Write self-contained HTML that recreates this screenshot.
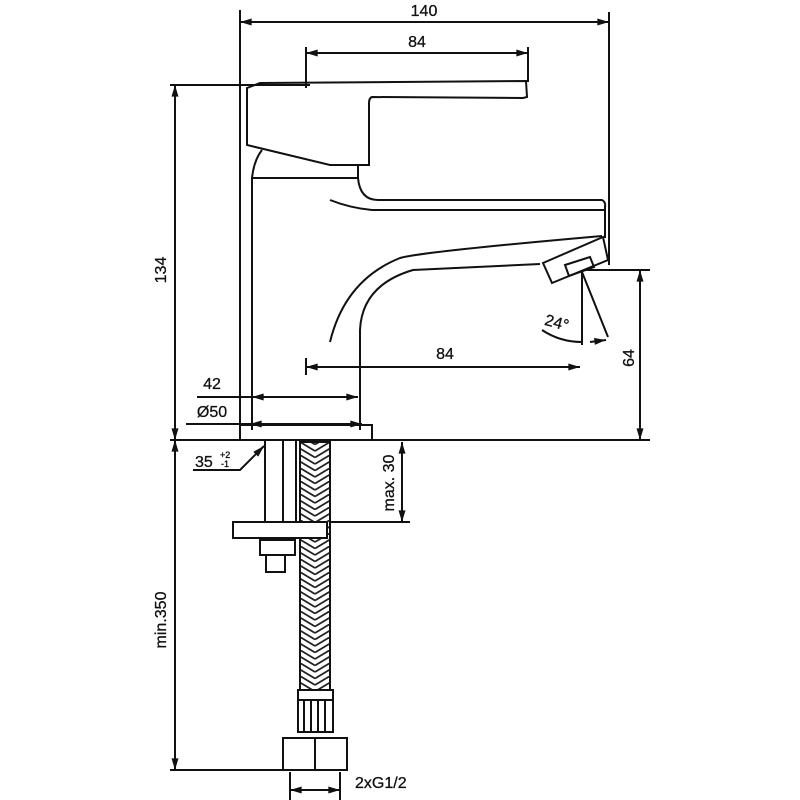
<!DOCTYPE html>
<html><head><meta charset="utf-8"><style>body{margin:0;background:#fff}svg{display:block}text{font-family:"Liberation Sans",sans-serif;font-size:16px;fill:#111;stroke:#111;stroke-width:0.3}</style></head><body>
<svg width="800" height="800" viewBox="0 0 800 800" xmlns="http://www.w3.org/2000/svg">
<defs>
<marker id="a" viewBox="0 0 10 6" refX="10" refY="3" markerWidth="12" markerHeight="7" orient="auto-start-reverse" markerUnits="userSpaceOnUse"><path d="M0,0L10,3L0,6z" fill="#111"/></marker>
<pattern id="br" x="300" width="30" height="13" patternUnits="userSpaceOnUse"><path d="M0,0L15,9M30,0L15,9M0,6.5L15,15.5M30,6.5L15,15.5M0,-6.5L15,2.5M30,-6.5L15,2.5" stroke="#222" stroke-width="1.8" fill="none"/></pattern>
</defs>
<g stroke="#111" stroke-width="2" fill="none">
<line x1="240" y1="10" x2="240" y2="440"/><line x1="609" y1="12" x2="609" y2="265"/>
<line x1="240" y1="22" x2="609" y2="22" marker-start="url(#a)" marker-end="url(#a)"/>
<line x1="306" y1="47" x2="306" y2="88"/><line x1="528" y1="47" x2="528" y2="82"/>
<line x1="306" y1="53" x2="528" y2="53" marker-start="url(#a)" marker-end="url(#a)"/>
<line x1="170" y1="85" x2="310" y2="85"/>
<line x1="175" y1="85" x2="175" y2="440" marker-start="url(#a)" marker-end="url(#a)"/>
<path d="M247,88 L260,83 L526,81 L527,97 L523,98 L372,97 Q369,98 369,103 L369,165 L330,165 L247,145 Z"/>
<path d="M252,430 L252,178 L358,178"/>
<path d="M252,178 Q254,160 262,150"/>
<path d="M358,165 L358,178 Q360,200 378,200 L602,200 Q606,202 605,207 L605,238"/>
<path d="M330,200 Q350,208 372,210 L605,210"/>
<path d="M330,342 Q345,280 400,258 Q420,252 602,236"/>
<path d="M360,430 L360,330 Q362,285 413,270 L540,264"/>
<path d="M543,263 L603,237 L608,260 L552,283 Z"/>
<path d="M565,265 L590,257 L594,267 L569,276 Z"/>
<line x1="582" y1="272" x2="582" y2="345"/><line x1="582" y1="272" x2="608" y2="337"/>
<path d="M542,330 Q560,342 582,342"/><line x1="590" y1="342" x2="606" y2="340" marker-end="url(#a)"/>
<line x1="585" y1="270" x2="650" y2="270"/>
<line x1="640" y1="270" x2="640" y2="440" marker-start="url(#a)" marker-end="url(#a)"/>
<line x1="306" y1="358" x2="306" y2="375"/>
<line x1="306" y1="367" x2="580" y2="367" marker-start="url(#a)" marker-end="url(#a)"/>
<line x1="197" y1="397" x2="252" y2="397"/>
<line x1="252" y1="397" x2="358" y2="397" marker-start="url(#a)" marker-end="url(#a)"/>
<line x1="186" y1="424" x2="250" y2="424"/>
<line x1="250" y1="424" x2="362" y2="424" marker-start="url(#a)" marker-end="url(#a)"/>
<rect x="240" y="425" width="132" height="15"/>
<line x1="170" y1="440" x2="650" y2="440"/>
<polyline points="193,470 240,470 264,446" marker-end="url(#a)"/>
<line x1="175" y1="440" x2="175" y2="770" marker-start="url(#a)" marker-end="url(#a)"/>
<line x1="170" y1="770" x2="290" y2="770"/>
<line x1="265" y1="440" x2="265" y2="522"/><line x1="283" y1="440" x2="283" y2="522"/><line x1="296" y1="440" x2="296" y2="522"/>
<rect x="300" y="442" width="30" height="248" fill="url(#br)"/>
<rect x="233" y="522" width="94" height="16" fill="#fff"/>
<rect x="260" y="540" width="35" height="15"/><rect x="266" y="555" width="19" height="17"/>
<rect x="298" y="690" width="35" height="10"/>
<rect x="298" y="700" width="35" height="32"/>
<line x1="304" y1="700" x2="304" y2="732"/><line x1="311" y1="700" x2="311" y2="732"/><line x1="318" y1="700" x2="318" y2="732"/><line x1="325" y1="700" x2="325" y2="732"/>
<rect x="283" y="738" width="64" height="32"/><line x1="315" y1="738" x2="315" y2="770"/>
<line x1="330" y1="522" x2="410" y2="522"/>
<line x1="402" y1="442" x2="402" y2="522" marker-start="url(#a)" marker-end="url(#a)"/>
<line x1="290" y1="772" x2="290" y2="800"/><line x1="340" y1="772" x2="340" y2="800"/>
<line x1="290" y1="790" x2="340" y2="790" marker-start="url(#a)" marker-end="url(#a)"/>
</g>
<text x="424" y="16" text-anchor="middle">140</text>
<text x="417" y="47" text-anchor="middle">84</text>
<text x="445" y="359" text-anchor="middle">84</text>
<text x="212" y="389" text-anchor="middle">42</text>
<text x="212" y="417" text-anchor="middle">Ø50</text>
<text x="557" y="328" text-anchor="middle" transform="rotate(15 557 322)">24°</text>
<text transform="translate(166,270) rotate(-90)" text-anchor="middle">134</text>
<text transform="translate(634,358) rotate(-90)" text-anchor="middle">64</text>
<text transform="translate(166,620) rotate(-90)" text-anchor="middle">min.350</text>
<text transform="translate(394,483) rotate(-90)" text-anchor="middle">max. 30</text>
<text x="195" y="467">35</text><text x="220" y="458" style="font-size:9px">+2</text><text x="221" y="467" style="font-size:9px">-1</text>
<text x="355" y="788">2xG1/2</text>
</svg>
</body></html>
